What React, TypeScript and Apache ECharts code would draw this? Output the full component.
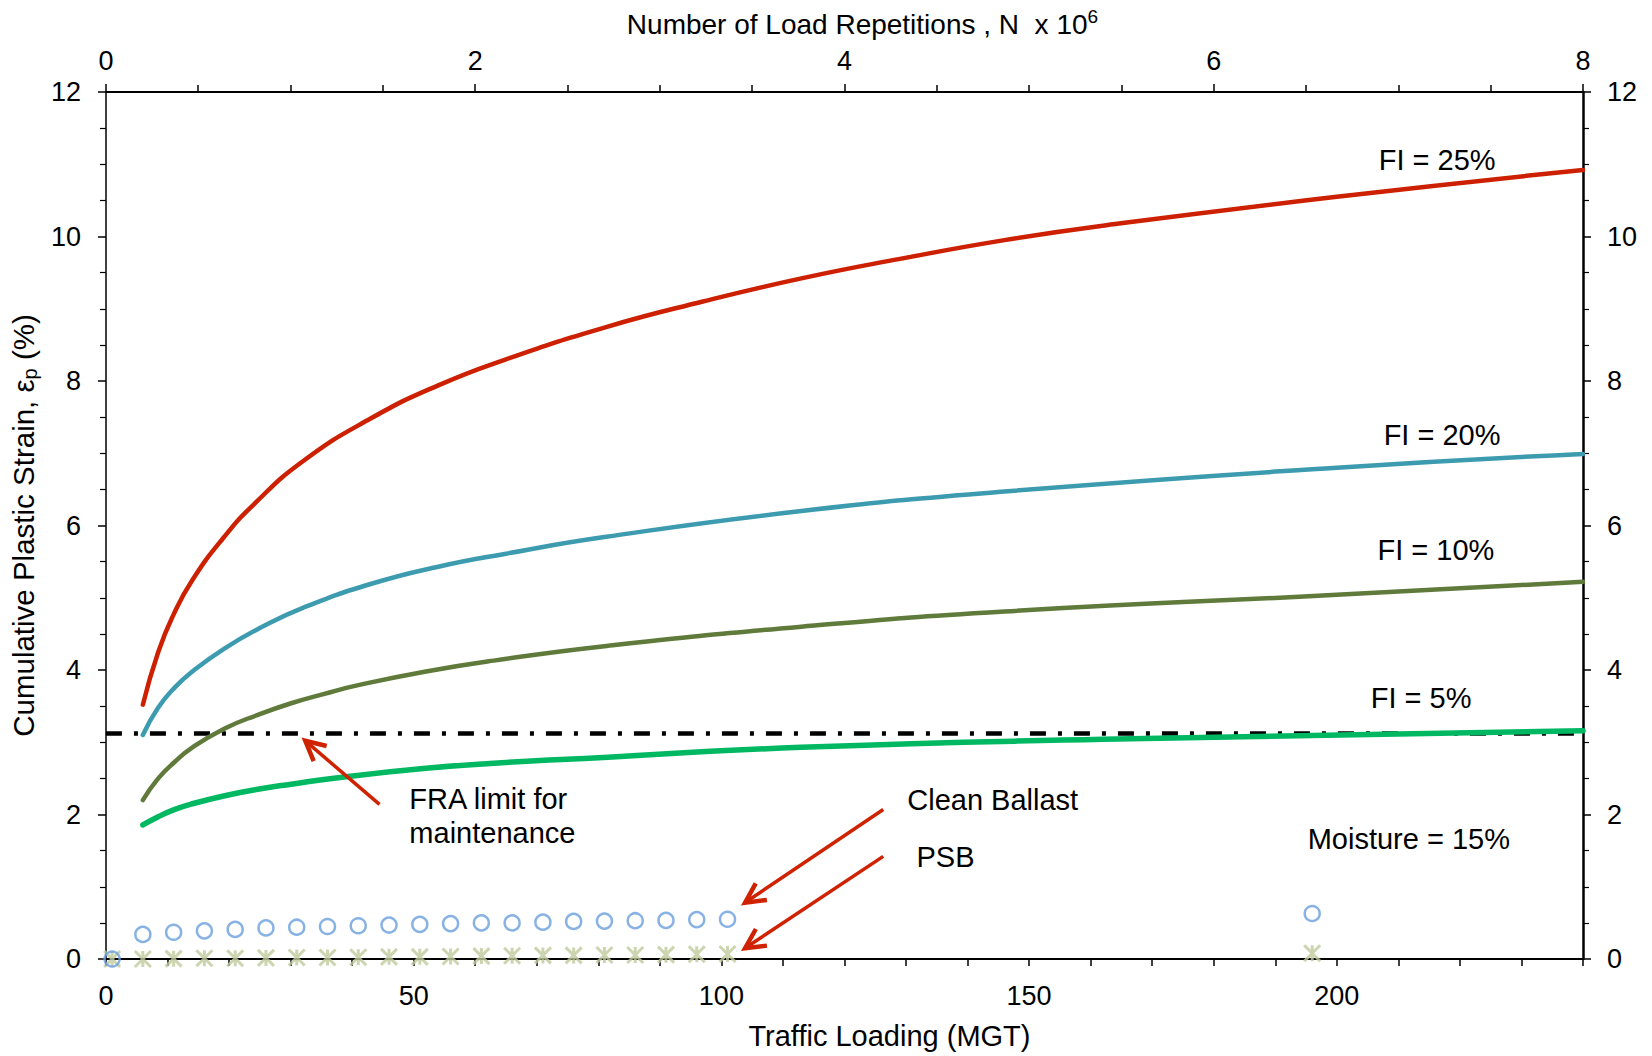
import React, { useEffect, useRef } from "react";
import * as echarts from "echarts";

const FONT = "'Liberation Sans', Arial, Helvetica, sans-serif";

// Axis ranges
const mgtMin = 0;
const mgtMax = 240;
const nMin = 0;
const nMax = 8;
const strainMin = 0;
const strainMax = 12;

// FI = 25 %
const fi25X = [6, 8.5, 11, 14, 19, 24, 32, 43, 54, 65, 81, 97, 113, 129, 146, 162, 200, 240];
const fi25Y = [3.52, 4.25, 4.77, 5.24, 5.82, 6.29, 6.89, 7.48, 7.94, 8.3, 8.74, 9.1, 9.42, 9.69, 9.95, 10.15, 10.55, 10.92];
// FI = 20 %
const fi20X = [6, 8.5, 11.2, 13.9, 19.3, 25, 32, 43, 54, 65, 81, 113, 146, 200, 240];
const fi20Y = [3.1, 3.48, 3.76, 3.97, 4.3, 4.58, 4.86, 5.19, 5.43, 5.61, 5.84, 6.2, 6.47, 6.8, 6.99];
// FI = 10 %
const fi10X = [6, 8.5, 11.2, 13.9, 19.3, 24.7, 30.1, 35.5, 41, 52, 63, 81, 113, 146, 200, 240];
const fi10Y = [2.2, 2.5, 2.73, 2.92, 3.19, 3.38, 3.54, 3.67, 3.79, 3.98, 4.13, 4.33, 4.6, 4.81, 5.04, 5.22];
// FI = 5 %
const fi5X = [6, 8.5, 11.2, 13.9, 19.3, 24.7, 30.1, 38.7, 52, 63, 74, 113, 162, 240];
const fi5Y = [1.855, 1.97, 2.07, 2.145, 2.26, 2.35, 2.42, 2.52, 2.64, 2.71, 2.76, 2.93, 3.04, 3.16];
// FRA limit for maintenance
const fraX = [0, 240];
const fraY = [3.12, 3.12];
// Test points (MGT)
const testX = [1, 6, 11, 16, 21, 26, 31, 36, 41, 46, 51, 56, 61, 66, 71, 76, 81, 86, 91, 96, 101, 196];
const cleanY = [0, 0.34, 0.37, 0.39, 0.41, 0.43, 0.44, 0.45, 0.46, 0.47, 0.48, 0.49, 0.5, 0.5, 0.51, 0.52, 0.525, 0.53, 0.535, 0.545, 0.55, 0.63];
const psbY = [0, 0, 0.005, 0.01, 0.01, 0.015, 0.02, 0.02, 0.025, 0.03, 0.03, 0.035, 0.04, 0.045, 0.05, 0.05, 0.055, 0.055, 0.06, 0.065, 0.07, 0.08];

// Annotations (data coordinates)
const labelTexts = ["FI = 25%", "FI = 20%", "FI = 10%", "FI = 5%", "Moisture = 15%"];
const labelX = [216.3, 217.1, 216.1, 213.7, 211.7];
const labelY = [11.06, 7.25, 5.66, 3.61, 1.66];
const leftTexts = ["Clean Ballast", "PSB", "FRA limit for", "maintenance"];
const leftX = [130.2, 131.7, 49.3, 49.3];
const leftY = [2.2, 1.41, 2.21, 1.74];
const arrowTailX = [44.45, 126.3, 126.3];
const arrowTailY = [2.14, 2.07, 1.42];
const arrowTipX = [32.39, 103.85, 103.85];
const arrowTipY = [3.02, 0.78, 0.15];

const RED = "#cc2000";
const TEAL = "#3d9bb0";
const OLIVE = "#5f7a3a";
const GREEN = "#00b862";
const BLUE = "#6a9fdd";
const KHAKI = "#bfcb9c";
const ARROW = "#cf2200";

const pairs = (xs: number[], ys: number[]) => xs.map((x, i) => [x, ys[i]]);

const curve = (xs: number[], ys: number[], color: string, width: number) => ({
  type: "line",
  data: pairs(xs, ys),
  showSymbol: false,
  symbol: "none",
  smooth: 0.5,
  lineStyle: { color, width, cap: "round" },
  z: 3,
  silent: true,
});

const tickLabel = { fontSize: 27, color: "#000", fontFamily: FONT };

export default function App() {
  const ref = useRef<HTMLDivElement>(null);
  useEffect(() => {
    if (!ref.current) return;
    const chart = echarts.init(ref.current, null, { renderer: "svg" });
    const option: any = {
      animation: false,
      backgroundColor: "#fff",
      grid: { left: 101, right: 69, top: 92, bottom: 97, containLabel: false },
      xAxis: [
        {
          type: "value",
          position: "bottom",
          min: mgtMin,
          max: mgtMax,
          interval: 10,
          axisLine: { onZero: false, lineStyle: { color: "#000", width: 2 } },
          axisTick: { show: true, inside: false, length: 7, lineStyle: { color: "#000", width: 1.5 } },
          axisLabel: {
            ...tickLabel,
            margin: 23,
            formatter: (v: number) => (v % 50 === 0 ? String(v) : ""),
          },
          splitLine: { show: false },
          name: "Traffic Loading (MGT)",
          nameLocation: "middle",
          nameGap: 62,
          nameTextStyle: { fontSize: 29, color: "#000", fontFamily: FONT, padding: [0, 0, 0, 90] },
        },
        {
          type: "value",
          position: "top",
          min: nMin,
          max: nMax,
          interval: 2,
          axisLine: { onZero: false, lineStyle: { color: "#000", width: 2 } },
          axisTick: { show: true, inside: false, length: 8, lineStyle: { color: "#000", width: 1.5 } },
          minorTick: { show: true, splitNumber: 4, length: 7, lineStyle: { color: "#000", width: 1.5 } },
          axisLabel: { ...tickLabel, margin: 18 },
          splitLine: { show: false },
          minorSplitLine: { show: false },
          name: "{a|Number of Load Repetitions , N  x 10}{s|6}",
          nameLocation: "middle",
          nameGap: 54,
          nameTextStyle: {
            color: "#000",
            fontFamily: FONT,
            padding: [0, 0, 0, 36],
            rich: {
              a: { fontSize: 28, fontFamily: FONT, color: "#000", verticalAlign: "bottom" },
              s: { fontSize: 19, fontFamily: FONT, color: "#000", verticalAlign: "top", padding: [0, 0, 12, 0] },
            },
          },
        },
      ],
      yAxis: [
        {
          type: "value",
          position: "left",
          min: strainMin,
          max: strainMax,
          interval: 2,
          axisLine: { onZero: false, lineStyle: { color: "#000", width: 1.5 } },
          axisTick: { show: true, inside: false, length: 8, lineStyle: { color: "#000", width: 1.5 } },
          minorTick: { show: true, splitNumber: 4, length: 6, lineStyle: { color: "#000", width: 1.2 } },
          axisLabel: { ...tickLabel, margin: 25 },
          splitLine: { show: false },
          minorSplitLine: { show: false },
          name: "{a|Cumulative Plastic Strain, ε}{s|p}{a| (%)}",
          nameLocation: "middle",
          nameGap: 60,
          nameTextStyle: {
            color: "#000",
            fontFamily: FONT,
            rich: {
              a: { fontSize: 29.5, fontFamily: FONT, color: "#000", verticalAlign: "top" },
              s: { fontSize: 20, fontFamily: FONT, color: "#000", verticalAlign: "bottom", padding: [12, 0, 0, 0] },
            },
          },
        },
        {
          type: "value",
          position: "right",
          min: strainMin,
          max: strainMax,
          interval: 2,
          axisLine: { onZero: false, lineStyle: { color: "#000", width: 2.5 } },
          axisTick: { show: true, inside: false, length: 8, lineStyle: { color: "#000", width: 1.5 } },
          minorTick: { show: true, splitNumber: 4, length: 6, lineStyle: { color: "#000", width: 1.2 } },
          axisLabel: { ...tickLabel, margin: 24 },
          splitLine: { show: false },
          minorSplitLine: { show: false },
        },
      ],
      series: [
        {
          type: "line",
          data: pairs(fraX, fraY),
          showSymbol: false,
          symbol: "none",
          lineStyle: { color: "#000", width: 4.5, type: [16, 12, 4, 12] },
          z: 2,
          silent: true,
        },
        curve(fi25X, fi25Y, RED, 4.5),
        curve(fi20X, fi20Y, TEAL, 4.5),
        curve(fi10X, fi10Y, OLIVE, 4.5),
        curve(fi5X, fi5Y, GREEN, 5.5),
        {
          type: "scatter",
          data: pairs(testX, psbY),
          symbol: "path://M0,0L10,10M10,0L0,10M5,0L5,10",
          symbolSize: 16,
          itemStyle: { color: "none", borderColor: KHAKI, borderWidth: 3 },
          z: 4,
          silent: true,
        },
        {
          type: "scatter",
          data: pairs(testX, cleanY),
          symbol: "circle",
          symbolSize: 15,
          itemStyle: { color: "rgba(0,0,0,0)", borderColor: BLUE, borderWidth: 2.5 },
          z: 5,
          silent: true,
        },
      ],
    };
    chart.setOption(option);

    const toPx = (x: number, y: number) =>
      chart.convertToPixel({ xAxisIndex: 0, yAxisIndex: 0 }, [x, y]) as number[];

    const graphics: any[] = [];
    labelTexts.forEach((t, i) => {
      const p = toPx(labelX[i], labelY[i]);
      graphics.push({
        type: "text",
        x: p[0],
        y: p[1],
        style: { text: t, fontSize: 29, fontFamily: FONT, fill: "#000", align: "center", verticalAlign: "middle" },
        z: 10,
      });
    });
    leftTexts.forEach((t, i) => {
      const p = toPx(leftX[i], leftY[i]);
      graphics.push({
        type: "text",
        x: p[0],
        y: p[1],
        style: { text: t, fontSize: 29, fontFamily: FONT, fill: "#000", align: "left", verticalAlign: "middle" },
        z: 10,
      });
    });
    arrowTailX.forEach((_, i) => {
      const tail = toPx(arrowTailX[i], arrowTailY[i]);
      const tip = toPx(arrowTipX[i], arrowTipY[i]);
      const dx = tail[0] - tip[0];
      const dy = tail[1] - tip[1];
      const len = Math.hypot(dx, dy);
      const ux = dx / len;
      const uy = dy / len;
      const L = 22;
      const th = (27 * Math.PI) / 180;
      const arm = (a: number) => [
        tip[0] + L * (ux * Math.cos(a) - uy * Math.sin(a)),
        tip[1] + L * (ux * Math.sin(a) + uy * Math.cos(a)),
      ];
      graphics.push({
        type: "line",
        shape: { x1: tail[0], y1: tail[1], x2: tip[0] + ux * 2, y2: tip[1] + uy * 2 },
        style: { stroke: ARROW, lineWidth: 3.5 },
        z: 10,
      });
      graphics.push({
        type: "polyline",
        shape: { points: [arm(th), [tip[0], tip[1]], arm(-th)] },
        style: { stroke: ARROW, lineWidth: 4.5, fill: null, lineJoin: "miter" },
        z: 10,
      });
    });
    chart.setOption({ graphic: graphics });

    return () => chart.dispose();
  }, []);
  return (
    <div
      ref={ref}
      style={{ position: "absolute", left: 0, top: 0, width: 1652, height: 1056, background: "#fff" }}
    />
  );
}
